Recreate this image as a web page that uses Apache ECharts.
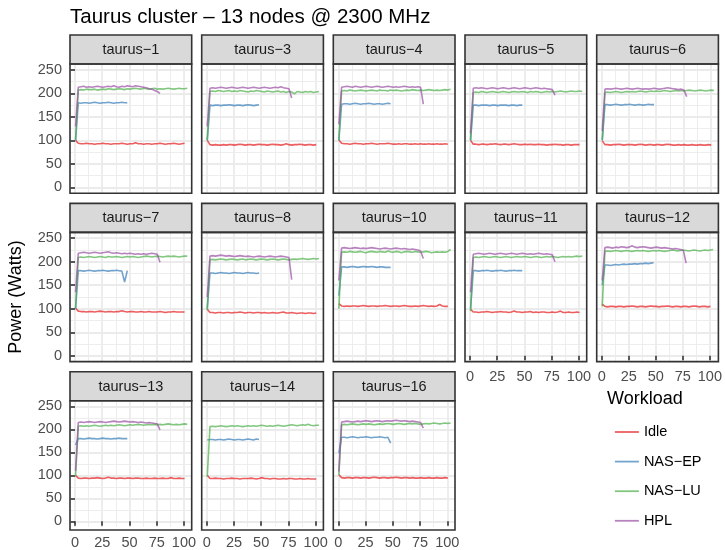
<!DOCTYPE html>
<html>
<head>
<meta charset="UTF-8">
<title>Taurus cluster</title>
<script src="https://cdn.jsdelivr.net/npm/echarts@6/dist/echarts.min.js"></script>
<style>
html, body { margin: 0; padding: 0; background: #fff; }
#main { width: 725px; height: 550px; }
</style>
</head>
<body>
<div id="main"></div>
<script>
// facet names, in panel order
var NODES = ['taurus−1', 'taurus−3', 'taurus−4', 'taurus−5', 'taurus−6',
             'taurus−7', 'taurus−8', 'taurus−10', 'taurus−11', 'taurus−12',
             'taurus−13', 'taurus−14', 'taurus−16'];
var WORKLOADS = ['Idle', 'NAS−EP', 'NAS−LU', 'HPL'];
var COLORS = ['#E41A1C', '#377EB8', '#4DAF4A', '#984EA3'];

// samples every X_STEP seconds starting at X_START (one row per node)
var X_START = 0.5, X_STEP = 2.5;

var IDLE = [
  [100,94,93,93,94,93,93,92,93,93,94,93,93,92,93,93,93,94,93,92,93,93,95,93,93,92,93,93,92,93,93,94,93,92,93,93,94,93,92,93,94],
  [100,91,90,91,90,90,91,90,91,91,90,91,92,91,90,91,91,90,91,92,91,91,90,91,92,91,91,90,91,93,91,90,91,91,92,91,90,91,91,90,91],
  [101,94,93,93,92,93,94,93,93,92,93,93,94,93,92,93,93,93,94,93,92,92,93,92,93,93,92,92,93,92,93,92,92,93,92,92,93,92,92,93,92],
  [100,92,92,91,92,92,91,92,92,93,92,91,92,92,91,92,93,92,91,91,92,91,92,91,91,92,91,91,90,91,91,92,91,91,90,91,91,90,91,91,91],
  [99,91,91,90,91,91,92,91,90,91,91,91,90,91,92,91,90,91,91,90,91,91,90,91,92,91,90,90,91,90,91,90,90,91,90,90,91,90,90,91,90],
  [101,95,94,94,93,94,94,93,94,95,94,93,94,94,93,94,94,96,94,93,94,94,93,93,94,93,93,94,93,93,93,94,93,92,93,93,94,93,93,93,93],
  [99,92,92,91,92,92,91,92,92,91,92,92,93,92,91,92,92,91,92,92,91,92,91,91,92,91,91,92,93,91,91,92,91,90,91,91,90,91,91,90,91],
  [111,106,105,106,105,106,106,105,106,107,106,105,106,106,105,106,106,107,106,105,106,106,105,106,107,106,105,105,106,105,106,107,106,105,106,105,106,109,106,105,105],
  [99,93,93,92,93,93,94,93,92,93,93,94,93,93,92,93,95,93,93,92,93,93,94,92,93,92,93,93,92,92,93,92,93,95,92,92,93,92,92,93,92],
  [110,105,104,105,105,104,105,105,104,105,105,106,105,104,105,105,104,105,106,105,105,104,105,105,106,105,104,105,105,104,105,105,104,105,106,105,104,105,105,104,105],
  [100,94,93,94,94,93,94,94,95,94,93,94,96,94,94,93,94,94,93,94,94,93,94,94,93,93,94,93,93,94,93,93,94,93,93,95,93,93,94,93,93],
  [100,93,93,94,93,93,92,93,93,94,93,93,92,93,93,93,94,93,92,93,95,93,93,92,93,93,92,92,93,92,93,93,92,92,93,92,92,93,92,92,92],
  [101,95,94,95,95,94,95,95,94,95,95,94,95,96,95,94,95,95,94,95,95,96,95,94,95,95,94,95,94,94,95,94,94,95,94,94,95,94,94,95,94]
];

var NAS_EP = [
  [100,180,179,180,180,179,180,181,180,179,180,180,181,180,179,180,180,181,180,180],
  [100,175,174,175,175,174,175,175,176,175,174,175,175,174,175,176,175,174,175,176],
  [100,177,178,178,177,178,179,178,177,178,178,179,178,177,178,178,177,178,179,178],
  [100,175,175,174,175,175,175,174,175,175,174,175,175,175,174,175,175,174,175,175],
  [100,176,176,175,176,177,176,175,176,176,177,176,175,176,176,175,176,177,176,176],
  [100,181,181,180,181,182,181,180,181,181,182,181,180,181,181,182,181,180,157,181],
  [100,176,176,175,176,177,176,176,175,176,177,176,176,175,176,177,176,176,175,176],
  [128,189,189,188,189,190,189,188,189,190,189,189,190,189,188,189,189,188,188,188],
  [100,181,181,180,181,181,182,181,180,181,181,182,181,180,181,181,182,181,181,181],
  [150,193,193,192,193,194,193,194,195,194,195,195,196,195,196,196,197,196,197,198],
  [166,180,180,179,180,181,180,180,179,180,181,180,180,179,180,180,181,180,180,180],
  [177,178,178,177,178,178,177,178,179,178,177,178,178,177,178,179,178,177,179,178],
  [148,183,183,182,183,184,183,182,183,183,184,183,182,183,183,184,183,182,183,170]
];

var NAS_LU = [
  [100,207,208,207,209,208,208,209,207,208,209,208,210,209,208,209,210,209,208,210,209,210,211,210,209,211,210,209,210,211,209,210,209,210,211,210,209,210,211,210,210,211],
  [100,204,205,204,206,205,204,205,206,204,205,204,206,205,204,203,205,204,206,205,204,203,205,204,203,204,205,203,204,202,204,203,199,204,203,202,204,203,204,202,203,204],
  [100,205,206,205,207,206,205,206,207,206,205,206,207,206,205,207,206,206,205,207,206,207,206,205,206,207,206,208,207,206,207,206,207,208,207,206,207,206,207,208,207,209],
  [100,202,203,202,204,203,202,203,204,203,202,203,204,203,202,203,204,203,203,204,203,202,204,203,204,203,202,203,204,203,204,203,204,205,204,203,204,205,204,204,205,204],
  [100,202,203,202,203,204,203,202,203,204,203,204,203,204,205,204,203,204,205,204,205,204,205,206,205,204,205,206,205,206,205,206,207,206,205,206,207,206,205,206,207,206],
  [100,209,210,209,210,211,210,209,210,211,210,209,211,210,210,211,210,209,210,211,210,211,210,209,210,211,212,211,210,211,212,211,210,211,212,211,212,211,210,211,212,212],
  [97,204,205,204,205,206,205,204,205,206,205,204,205,206,204,205,206,205,204,205,206,205,204,205,206,205,204,205,206,205,204,205,206,205,206,207,206,205,206,207,206,207],
  [100,220,221,220,222,221,220,221,222,220,219,221,222,221,220,222,221,220,223,221,220,222,221,219,221,222,221,220,222,221,220,221,222,221,219,220,221,220,221,220,222,226],
  [95,209,210,209,210,211,210,209,210,211,210,209,210,211,210,209,210,211,210,210,211,210,209,210,211,210,209,210,211,210,211,210,209,210,211,210,211,210,211,212,211,212],
  [105,222,223,222,223,224,223,222,223,224,223,222,223,224,223,224,223,222,223,224,223,224,223,222,223,224,225,224,223,224,225,224,223,224,225,224,223,224,225,224,225,226],
  [98,207,208,207,208,207,208,209,208,207,208,209,208,209,208,209,210,209,208,209,210,209,210,211,210,209,210,211,210,211,210,211,210,211,212,211,210,211,210,211,212,211],
  [97,206,207,206,207,208,207,206,207,208,207,208,207,206,207,208,207,208,207,208,209,208,207,208,207,208,209,208,207,208,209,210,209,208,209,210,209,211,209,208,209,209],
  [100,210,211,210,211,212,211,210,211,212,211,212,211,210,211,212,211,212,213,212,211,212,213,212,211,212,213,212,213,212,211,212,213,212,213,214,213,212,213,214,213,214]
];

var HPL = [
  [130,213,214,215,213,214,213,214,215,214,213,214,215,214,216,214,213,215,214,216,215,214,216,215,214,213,212,210,209,206,204,200],
  [130,211,212,211,212,213,212,211,212,213,212,211,212,213,212,211,212,213,212,211,212,213,212,211,212,213,212,214,212,211,210,190],
  [134,213,214,215,214,213,215,214,213,214,215,214,213,214,215,214,213,214,215,214,213,214,213,214,215,214,213,214,213,214,213,177],
  [115,211,212,211,212,211,210,211,212,211,210,211,212,211,210,211,212,211,210,211,212,211,210,211,212,211,210,211,210,209,208,196],
  [120,209,210,209,210,211,210,209,210,211,210,209,210,211,210,209,210,209,210,211,210,209,210,211,212,211,210,209,208,209,207,193],
  [135,218,219,220,219,218,219,220,219,218,219,220,221,219,218,219,218,217,218,217,218,217,216,217,216,217,216,217,218,217,216,199],
  [125,212,213,212,213,214,213,212,213,212,211,212,213,212,211,212,211,210,211,212,211,210,211,212,211,210,211,212,211,210,209,162],
  [160,229,230,229,228,229,230,229,228,229,228,229,230,229,228,227,228,229,228,227,228,229,228,227,228,227,226,227,226,225,223,207],
  [135,216,217,218,217,216,217,218,217,216,217,218,217,216,217,218,217,216,217,218,217,216,217,216,217,218,217,216,217,216,215,200],
  [160,230,231,230,229,231,230,232,231,230,231,234,231,230,231,232,231,230,229,230,231,230,229,230,229,228,227,228,227,226,224,197],
  [110,215,216,215,216,217,216,215,216,217,216,215,216,217,218,217,216,217,218,217,216,217,216,215,216,215,214,215,214,213,212,199],
  [],
  [108,216,217,218,217,216,217,218,217,218,219,218,217,218,219,218,217,218,219,218,219,220,219,218,219,218,217,218,217,216,215,203]
];

var X_MAJOR = [0, 25, 50, 75, 100];
var X_MINOR = [12.5, 37.5, 62.5, 87.5];
var Y_MAJOR = [0, 50, 100, 150, 200, 250];
var Y_MINOR = [25, 75, 125, 175, 225];
var X_MIN = -4.6, X_MAX = 107.1;
var Y_MIN = -12.5, Y_MAX = 262.5;

// panel layout (pixels)
var COL_X = [70, 201.7, 333.3, 465, 596.7];
var ROW_TOP = [35, 203.35, 371.7];
var PANEL_W = 121.7, STRIP_H = 29, PLOT_H = 129.3;
var FONT = '"Liberation Sans", Arial, sans-serif';

var chart = echarts.init(document.getElementById('main'), null, {renderer: 'canvas'});

var grids = [], xAxes = [], yAxes = [], series = [], graphics = [];
var seriesData = [IDLE, NAS_EP, NAS_LU, HPL];

function mainAxis(dim, i, show, major) {
    return {
        type: 'value', gridIndex: i,
        min: dim == 'x' ? X_MIN : Y_MIN, max: dim == 'x' ? X_MAX : Y_MAX,
        axisLine: {show: false},
        axisTick: {show: show, customValues: major, length: 4.5, lineStyle: {color: '#333333', width: 1.6}},
        axisLabel: {show: show, customValues: major, margin: 8, fontSize: 14.5, color: '#4D4D4D', fontFamily: FONT},
        splitLine: {show: true, lineStyle: {color: '#EBEBEB', width: 1.8}}
    };
}
function minorAxis(dim, i, minor) {
    return {
        type: 'value', gridIndex: i,
        min: dim == 'x' ? X_MIN : Y_MIN, max: dim == 'x' ? X_MAX : Y_MAX,
        axisLine: {show: false},
        axisTick: {show: false, customValues: minor},
        axisLabel: {show: false},
        splitLine: {show: true, lineStyle: {color: '#EBEBEB', width: 0.9}}
    };
}

NODES.forEach(function (name, i) {
    var row = Math.floor(i / 5), col = i % 5;
    var left = COL_X[col], top = ROW_TOP[row] + STRIP_H;
    grids.push({left: left, top: top, width: PANEL_W, height: PLOT_H, backgroundColor: '#fff', show: true, borderWidth: 0});
    var showX = i + 5 >= NODES.length;
    var showY = col === 0;
    xAxes.push(mainAxis('x', i, showX, X_MAJOR), minorAxis('x', i, X_MINOR));
    yAxes.push(mainAxis('y', i, showY, Y_MAJOR), minorAxis('y', i, Y_MINOR));

    seriesData.forEach(function (rows, k) {
        series.push({
            name: WORKLOADS[k], type: 'line',
            xAxisIndex: 2 * i, yAxisIndex: 2 * i,
            symbol: 'none', silent: true, z: 3,
            color: COLORS[k],
            lineStyle: {width: 1.6, color: COLORS[k], opacity: 0.7},
            data: rows[i].map(function (v, j) { return [X_START + j * X_STEP, v]; })
        });
    });

    // strip
    graphics.push({
        type: 'rect', z: 100,
        shape: {x: left, y: ROW_TOP[row], width: PANEL_W, height: STRIP_H},
        style: {fill: '#D9D9D9', stroke: '#333333', lineWidth: 1.6}
    });
    graphics.push({
        type: 'text', z: 101,
        style: {text: name, x: left + PANEL_W / 2, y: ROW_TOP[row] + STRIP_H / 2 + 0.5,
                textAlign: 'center', textVerticalAlign: 'middle',
                font: '14.5px ' + FONT, fill: '#1A1A1A'}
    });
    // panel border
    graphics.push({
        type: 'rect', z: 100,
        shape: {x: left, y: top, width: PANEL_W, height: PLOT_H},
        style: {fill: 'none', stroke: '#333333', lineWidth: 1.6}
    });
});

graphics.push({
    type: 'text', z: 101,
    style: {text: 'Taurus cluster – 13 nodes @ 2300 MHz', x: 70, y: 17,
            textAlign: 'left', textVerticalAlign: 'middle', font: '20.5px ' + FONT, fill: '#000'}
});
graphics.push({
    type: 'text', z: 101, rotation: Math.PI / 2, x: 16, y: 297,
    style: {text: 'Power (Watts)', x: 0, y: 0,
            textAlign: 'center', textVerticalAlign: 'middle', font: '18px ' + FONT, fill: '#000'}
});
graphics.push({
    type: 'text', z: 101,
    style: {text: 'Workload', x: 607, y: 399.5,
            textAlign: 'left', textVerticalAlign: 'middle', font: '18px ' + FONT, fill: '#000'}
});

chart.setOption({
    animation: false,
    backgroundColor: '#fff',
    grid: grids,
    xAxis: xAxes,
    yAxis: yAxes,
    legend: {
        data: WORKLOADS,
        orient: 'vertical',
        left: 609, top: 419,
        itemWidth: 24, itemHeight: 16, itemGap: 13.6,
        selectedMode: false,
        itemStyle: {opacity: 0},
        lineStyle: {width: 1.8, opacity: 0.7},
        textStyle: {fontSize: 14.5, lineHeight: 16, color: '#000', fontFamily: FONT}
    },
    graphic: graphics,
    series: series
});
</script>
</body>
</html>
